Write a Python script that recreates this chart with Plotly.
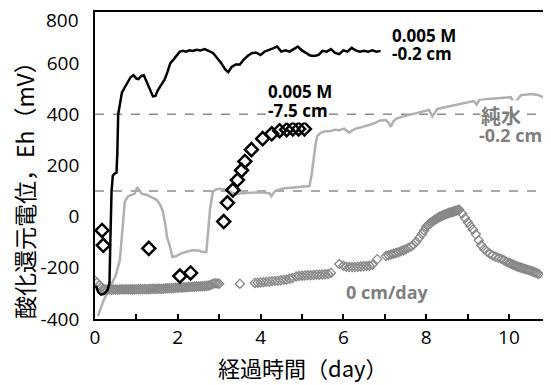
import plotly.graph_objects as go

# ---- Series: 0.005 M, -0.2 cm (black line) ----
blk_line_x = [0.02,0.08,0.15,0.22,0.30,0.35,0.37,0.40,0.43,0.47,0.52,0.54,0.56,0.60,0.65,0.70,0.78,0.86,0.93,1.00,
              1.05,1.12,1.18,1.25,1.32,1.40,1.46,1.52,1.60,1.68,1.75,1.82,1.90,1.98,2.05,2.12,2.20,2.28,2.36,2.45,
              2.55,2.65,2.75,2.85,2.95,3.05,3.15,3.22,3.30,3.40,3.50,3.60,3.70,3.80,3.90,4.00,4.10,4.20,4.30,4.40,
              4.50,4.60,4.70,4.80,4.90,5.00,5.10,5.20,5.30,5.40,5.50,5.60,5.70,5.80,5.90,6.00,6.10,6.20,6.30,6.40,
              6.50,6.60,6.70,6.80,6.90]
blk_line_y = [-270,-295,-305,-302,-288,-260,-100,100,160,168,172,250,400,440,485,500,525,545,553,540,
              538,550,553,525,495,470,472,495,515,535,565,600,615,630,645,648,645,650,648,652,
              650,655,648,640,620,600,575,565,585,595,595,615,630,640,641,632,645,650,658,665,
              645,650,645,655,665,650,640,630,628,632,648,645,655,640,635,650,645,660,650,645,
              648,645,650,645,648]

# ---- Series: 0.005 M, -7.5 cm (black open diamonds) ----
blk_dia_x = [0.17,0.20,1.30,2.05,2.31,3.11,3.20,3.33,3.44,3.54,3.62,3.78,4.05,4.27,4.46,4.63,4.78,4.92,5.06]
blk_dia_y = [-54,-112,-124,-232,-220,-19,54,104,143,181,216,262,305,324,336,340,343,343,343]

# ---- Series: 純水, -0.2 cm (light gray line) ----
gry_line_x = [0.07,0.2,0.35,0.5,0.6,0.65,0.72,0.8,0.9,0.96,1.02,1.08,1.13,1.25,1.4,1.49,1.58,1.64,1.70,1.74,
              1.80,1.87,1.95,2.1,2.25,2.37,2.5,2.6,2.69,2.73,2.78,2.85,2.95,3.05,3.18,3.3,3.42,3.55,3.66,3.8,
              3.98,4.1,4.22,4.26,4.35,4.53,4.7,4.87,5.0,5.18,5.23,5.28,5.33,5.37,5.45,5.55,5.7,5.8,5.9,6.02,
              6.08,6.14,6.22,6.3,6.45,6.63,6.75,6.87,7.03,7.1,7.15,7.2,7.27,7.45,7.65,7.85,8.07,8.15,8.2,8.27,
              8.45,8.65,8.85,9.05,9.15,9.22,9.28,9.5,9.7,9.9,10.05,10.12,10.2,10.29,10.45,10.55,10.7,10.8,10.85]
gry_line_y = [-390,-330,-280,-230,-170,-80,60,80,85,90,115,100,90,85,75,66,45,20,-30,-80,
              -110,-158,-155,-143,-135,-131,-132,-138,-138,-60,30,100,108,108,105,95,88,92,93,92,
              95,93,92,80,100,110,112,116,115,120,160,230,285,315,328,333,335,340,338,344,
              335,328,338,344,350,359,365,375,378,365,351,370,382,392,400,408,417,392,405,421,
              428,435,442,450,452,438,455,460,462,465,467,440,455,475,478,479,476,470,465]

# ---- Series: 0 cm/day (gray small open diamonds) ----
gd_x = [0.00,0.05,0.10,0.15,0.20,0.25,0.30,0.35,0.40,0.45,0.50,0.55,0.60,0.65,0.70,0.75,0.80,0.85,0.90,0.95,
        1.00,1.05,1.10,1.15,1.20,1.25,1.30,1.35,1.40,1.45,1.50,1.55,1.60,1.65,1.70,1.75,1.80,1.85,1.90,1.95,
        2.00,2.05,2.10,2.15,2.20,2.25,2.30,2.35,2.40,2.45,2.50,2.55,2.60,2.65,2.70,2.75,2.80,2.85,2.90,2.95,3.00,
        3.50,
        3.86,3.93,4.00,4.07,4.14,4.21,4.28,4.35,4.42,4.49,4.56,4.63,4.70,4.77,
        4.86,4.93,5.00,5.07,5.14,5.21,5.28,5.35,5.42,5.49,5.56,5.63,5.70,
        5.90,6.00,6.07,6.14,6.21,6.28,6.35,6.42,6.49,6.56,6.63,6.70,
        6.82,7.03,7.09,7.15,7.21,7.27,7.33,7.39,7.45,7.51,7.57,7.63,7.69,
        7.76,7.83,7.90,7.95,8.00,8.03,8.06,8.09,8.12,8.15,8.18,8.21,8.24,8.27,8.30,8.33,8.36,8.39,8.42,8.45,
        8.48,8.51,8.54,8.57,8.60,8.63,8.66,8.69,8.72,8.75,8.78,8.80,
        8.87,8.94,9.01,9.07,9.13,9.20,9.27,9.33,9.40,9.47,9.54,9.61,9.68,9.75,9.82,9.88,9.94,
        10.00,10.04,10.08,10.12,10.16,10.20,10.24,10.28,10.32,10.36,10.40,10.44,10.48,10.52,10.56,10.60,10.64,10.68,10.72]
gd_y = [-250,-258,-268,-276,-282,-285,-286,-285,-286,-285,-285,-286,-285,-284,-285,-284,-285,-284,-284,-285,
        -284,-284,-283,-284,-283,-284,-283,-283,-282,-283,-282,-282,-283,-282,-281,-280,-280,-279,-279,-278,
        -278,-277,-277,-276,-276,-275,-275,-274,-274,-273,-273,-272,-272,-271,-270,-269,-266,-262,-260,-261,-262,
        -262,
        -259,-258,-257,-256,-255,-254,-252,-251,-250,-249,-247,-246,-243,-240,
        -234,-232,-231,-230,-229,-229,-228,-227,-227,-226,-225,-224,-220,
        -185,-192,-196,-197,-197,-197,-196,-195,-194,-193,-192,-188,
        -166,-154,-151,-148,-145,-142,-139,-135,-131,-127,-122,-117,-110,
        -98,-83,-68,-54,-40,-35,-31,-27,-23,-20,-16,-12,-9,-6,-3,0,2,4,6,8,
        10,12,14,15,17,18,20,22,23,25,26,27,
        12,-5,-22,-36,-50,-69,-92,-112,-126,-136,-145,-152,-157,-161,-165,-170,-176,
        -180,-183,-186,-189,-192,-195,-197,-199,-201,-203,-205,-207,-209,-211,-213,-216,-218,-221,-224]

ref_levels = [400, 100]
x_range = [0, 10.92]
y_range = [-400, 800]
x_ticks = [0, 1, 2, 3, 4, 5, 6, 7, 8, 9, 10]
x_tick_labels = ["0", "", "2", "", "4", "", "6", "", "8", "", "10"]
y_ticks = [-400, -200, 0, 200, 400, 600, 800]
y_tick_labels = ["-400  ", "-200  ", "0  ", "200  ", "400  ", "600  ", ""]
y_top_label = "800"

# figure geometry (page has an 8px body margin)
W, H = 543, 377
ML, MR, MT, MB = 87, 3, 2, 66
PW, PH = W - ML - MR, H - MT - MB

def px(xp):  # page pixel x -> paper
    return (xp - 8 - ML) / PW

def py(yp):  # page pixel y -> paper
    return 1 - (yp - 8 - MT) / PH

fig = go.Figure()

for lv in ref_levels:
    fig.add_shape(type="line", xref="paper", x0=0, x1=1, yref="y", y0=lv, y1=lv,
                  line=dict(color="#8c8c8c", width=1.5, dash="dash"), layer="below")

fig.add_trace(go.Scatter(x=gry_line_x, y=gry_line_y, mode="lines",
                         line=dict(color="#b0b0b0", width=2.5), name="純水 -0.2 cm"))
fig.add_trace(go.Scatter(x=gd_x, y=gd_y, mode="markers",
                         marker=dict(symbol="diamond-open", size=7, color="#888888",
                                     line=dict(width=1.3, color="#888888")), name="0 cm/day"))
fig.add_trace(go.Scatter(x=blk_line_x, y=blk_line_y, mode="lines",
                         line=dict(color="black", width=2.5), name="0.005 M -0.2 cm"))
fig.add_trace(go.Scatter(x=blk_dia_x, y=blk_dia_y, mode="markers",
                         marker=dict(symbol="diamond-open", size=10, color="black",
                                     line=dict(width=2.5, color="black")), name="0.005 M -7.5 cm"))

lab_font = dict(family="Open Sans", size=17, color="black")
gray_font = dict(family="Open Sans", size=18, color="#7f7f7f")
cjk_gray = dict(family="Noto Sans CJK JP", size=20, color="#7f7f7f")
annos = [
    dict(x=px(392), y=py(34), text="<b>0.005 M</b>", font=lab_font),
    dict(x=px(392), y=py(52), text="<b>-0.2 cm</b>", font=lab_font),
    dict(x=px(267), y=py(90), text="<b>0.005 M</b>", font=lab_font),
    dict(x=px(267), y=py(109), text="<b>-7.5 cm</b>", font=lab_font, bgcolor="white"),
    dict(x=px(481), y=py(114), text="<b>純水</b>", font=cjk_gray, bgcolor="white"),
    dict(x=px(479), y=py(134), text="<b>-0.2 cm</b>", font=gray_font),
    dict(x=px(346), y=py(292), text="<b>0 cm/day</b>", font=gray_font),
]
for a in annos:
    fig.add_annotation(xref="paper", yref="paper", xanchor="left", yanchor="middle", align="left",
                       showarrow=False, borderpad=0, **a)

tick_font = dict(family="Open Sans", size=19, color="black")
fig.add_annotation(xref="paper", yref="paper", x=px(81), y=py(18), text=y_top_label,
                   showarrow=False, font=tick_font, xanchor="right", yanchor="middle")

fig.add_annotation(xref="paper", yref="paper", x=px(303), y=py(367),
                   text="経過時間（day）", showarrow=False,
                   font=dict(family="Noto Sans CJK JP", size=22, color="black"),
                   xanchor="center", yanchor="middle")
fig.add_annotation(xref="paper", yref="paper", x=px(24), y=py(184),
                   text="酸化還元電位，Eh（mV）", showarrow=False,
                   font=dict(family="Noto Sans CJK JP", size=23, color="black"),
                   textangle=-90, xanchor="center", yanchor="middle")

fig.update_layout(
    xaxis=dict(range=x_range, tickvals=x_ticks, ticktext=x_tick_labels, ticks="inside",
               ticklen=5, tickwidth=1.5, tickcolor="black", showline=True, linecolor="black",
               linewidth=2, mirror=True, showgrid=False, zeroline=False, tickfont=tick_font),
    yaxis=dict(range=y_range, tickvals=y_ticks, ticktext=y_tick_labels, ticks="",
               showline=True, linecolor="black",
               linewidth=2, mirror=True, showgrid=False, zeroline=False, tickfont=tick_font),
    width=W, height=H, margin=dict(l=ML, r=MR, t=MT, b=MB),
    plot_bgcolor="white", paper_bgcolor="white", showlegend=False)

fig.write_html("out.html")
